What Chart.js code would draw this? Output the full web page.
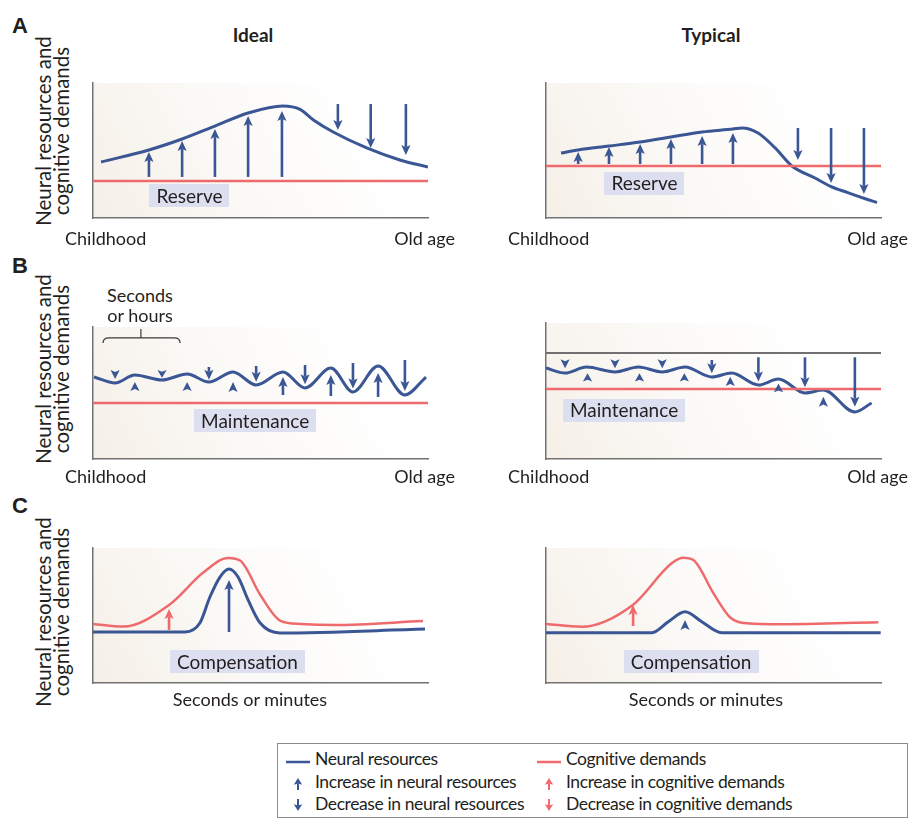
<!DOCTYPE html>
<html>
<head>
<meta charset="utf-8">
<script src="https://cdn.jsdelivr.net/npm/chart.js@4.4.1/dist/chart.umd.min.js"></script>
<style>
  html, body { margin: 0; padding: 0; background: #ffffff; }
  #page { position: relative; width: 911px; height: 818px; overflow: hidden; background: #ffffff; color: #231f20; }
  #page canvas { position: absolute; }
  .t { position: absolute; white-space: nowrap; line-height: 1; }
  #legend { position: absolute; left: 277px; top: 743px; width: 631px; height: 75px; border: 1.5px solid #8c8c8c; box-sizing: border-box; }
</style>
</head>
<body>
<div id="page"><div id="legend"></div></div>
<script>
// ================= DATA (values on a 0–100 schematic scale) =================
const COLUMN_TITLES = ['Ideal', 'Typical'];
const PANEL_LETTERS = ['A', 'B', 'C'];
const Y_TITLE_LINES = ['Neural resources and', 'cognitive demands'];
const LIFESPAN_LABELS = ['Childhood', 'Old age'];
const SHORT_TIME_LABEL = 'Seconds or minutes';
const BRACKET_LABEL = ['Seconds', 'or hours'];
const BOX_LABELS = ['Reserve', 'Maintenance', 'Compensation'];
const FULL_SPAN_X = [0, 100];

// ---- A: Reserve, ideal ----
const A_IDEAL_NEURAL_X = [2.4, 16.7, 26.6, 36.4, 46.3, 56.7, 61.8, 65.8, 71.7, 81.7, 91.6, 100];
const A_IDEAL_NEURAL_Y = [41.5, 50.4, 58.5, 68.1, 77.8, 83.0, 80.5, 72.6, 63.7, 51.9, 43.0, 37.8];
const A_IDEAL_DEMAND_Y = [27.4, 27.4];
const A_IDEAL_UP_X = [16.7, 26.6, 36.4, 46.3, 56.4];
const A_IDEAL_UP_FROM = [30.4, 30.4, 30.4, 30.4, 30.4];
const A_IDEAL_UP_TO = [48.9, 57.0, 65.9, 75.6, 79.3];
const A_IDEAL_DOWN_X = [73.1, 82.9, 93.4];
const A_IDEAL_DOWN_FROM = [84.4, 84.4, 84.4];
const A_IDEAL_DOWN_TO = [65.2, 51.9, 46.7];
const A_IDEAL_LABEL_AT = [28.8, 16.3];

// ---- A: Reserve, typical ----
const A_TYP_NEURAL_X = [4.5, 9.6, 18.8, 28.1, 37.3, 46.6, 55.8, 58.5, 63.3, 68.4, 73.4, 80.3, 85.1, 90.1, 94.9, 98.8];
const A_TYP_NEURAL_Y = [48.1, 50.4, 53.3, 56.3, 60.0, 63.7, 65.9, 66.7, 63.0, 51.9, 38.5, 29.6, 23.2, 18.8, 14.6, 11.4];
const A_TYP_DEMAND_Y = [38.5, 38.5];
const A_TYP_UP_X = [9.6, 18.8, 28.1, 37.3, 46.6, 55.8];
const A_TYP_UP_FROM = [40.0, 40.0, 40.0, 40.0, 40.0, 40.0];
const A_TYP_UP_TO = [48.9, 52.6, 54.8, 58.5, 60.7, 63.0];
const A_TYP_DOWN_X = [75.2, 85.1, 94.9];
const A_TYP_DOWN_FROM = [66.7, 66.7, 66.7];
const A_TYP_DOWN_TO = [43.0, 25.9, 17.8];
const A_TYP_LABEL_AT = [29.4, 25.9];

// ---- B: Maintenance, ideal ----
const B_IDEAL_NEURAL_X = [0.3, 6.6, 12.5, 20.6, 28.1, 34.6, 41.8, 48.7, 56.7, 63.3, 71.0, 77.6, 85.1, 93.1, 99.4];
const B_IDEAL_NEURAL_Y = [62.1, 57.6, 63.6, 59.8, 64.4, 58.3, 65.9, 56.1, 65.9, 53.8, 68.9, 50.8, 70.5, 48.5, 62.1];
const B_IDEAL_DEMAND_Y = [42.4, 42.4];
const B_IDEAL_DOWN_X = [6.6, 20.6, 34.6, 48.7, 63.3, 77.6, 93.1];
const B_IDEAL_DOWN_FROM = [67.4, 67.4, 69.7, 70.5, 71.2, 72.7, 75.0];
const B_IDEAL_DOWN_TO = [60.6, 61.5, 60.0, 58.5, 56.6, 53.5, 51.5];
const B_IDEAL_UP_X = [12.5, 28.1, 41.8, 56.7, 71.0, 85.1];
const B_IDEAL_UP_FROM = [51.5, 51.5, 50.8, 48.5, 47.7, 47.0];
const B_IDEAL_UP_TO = [58.3, 58.3, 58.3, 62.1, 63.6, 65.2];
const B_IDEAL_LABEL_AT = [48.4, 28.8];
const B_IDEAL_BRACKET = { from: 3.0, to: 26.0, mid: 14.3, y: 91.7, foot: 87.9, stem: 98.5 };

// ---- B: Maintenance, typical ----
const B_TYP_NEURAL_X = [0, 5.7, 12.1, 20.6, 27.6, 34.7, 41.5, 49.5, 55.4, 63.4, 69.4, 77.3, 82.8, 92.2, 97.2];
const B_TYP_NEURAL_Y = [66.9, 63.2, 67.6, 64.0, 67.6, 64.0, 67.6, 60.3, 63.2, 54.4, 58.8, 48.5, 50.7, 34.6, 41.2];
const B_TYP_DEMAND_Y = [51.5, 51.5];
const B_TYP_CEILING_Y = [77.9, 77.9];
const B_TYP_DOWN_X = [5.7, 20.6, 34.7, 49.5, 63.4, 77.3, 92.2];
const B_TYP_DOWN_FROM = [73.3, 73.3, 73.3, 72.8, 74.8, 74.8, 74.8];
const B_TYP_DOWN_TO = [66.7, 66.7, 66.7, 63.0, 56.9, 52.7, 38.5];
const B_TYP_UP_X = [12.4, 27.9, 41.3, 55.0, 69.4, 82.8];
const B_TYP_UP_FROM = [56.9, 56.9, 56.9, 53.7, 49.0, 38.5];
const B_TYP_UP_TO = [63.0, 63.0, 63.0, 60.5, 55.6, 45.8];
const B_TYP_LABEL_AT = [23.3, 36.0];

// ---- C: Compensation, ideal ----
const C_IDEAL_DEMAND_X = [0, 9.0, 22.7, 33.0, 40.3, 44.0, 50.0, 56.0, 62.0, 72.0, 98.5];
const C_IDEAL_DEMAND_Y = [43.7, 41.8, 57.8, 82.0, 92.6, 90.5, 65.0, 46.0, 43.7, 43.0, 45.9];
const C_IDEAL_NEURAL_X = [0, 27.5, 31.9, 34.9, 37.9, 40.6, 43.3, 46.3, 49.9, 55.8, 99.1];
const C_IDEAL_NEURAL_Y = [37.8, 37.8, 44.4, 63.7, 78.5, 84.4, 78.5, 61.5, 44.4, 37.0, 40.0];
const C_IDEAL_DEMAND_UP_X = [22.7];
const C_IDEAL_DEMAND_UP_FROM = [39.3];
const C_IDEAL_DEMAND_UP_TO = [54.8];
const C_IDEAL_NEURAL_UP_X = [40.6];
const C_IDEAL_NEURAL_UP_FROM = [37.8];
const C_IDEAL_NEURAL_UP_TO = [76.3];
const C_IDEAL_LABEL_AT = [43.1, 15.9];

// ---- C: Compensation, typical ----
const C_TYP_DEMAND_X = [0, 10.7, 25.9, 37.5, 41.0, 44.0, 50.0, 55.0, 60.0, 70.0, 99.2];
const C_TYP_DEMAND_Y = [43.7, 41.7, 57.8, 88.7, 92.8, 91.1, 66.4, 48.5, 44.2, 43.5, 45.0];
const C_TYP_NEURAL_X = [0, 31.6, 36.5, 41.5, 46.5, 52.4, 99.9];
const C_TYP_NEURAL_Y = [37.3, 37.3, 45.4, 52.8, 45.4, 37.3, 37.3];
const C_TYP_DEMAND_UP_X = [26.0];
const C_TYP_DEMAND_UP_FROM = [42.2];
const C_TYP_DEMAND_UP_TO = [57.8];
const C_TYP_NEURAL_UP_X = [41.5];
const C_TYP_NEURAL_UP_FROM = [39.3];
const C_TYP_NEURAL_UP_TO = [46.7];
const C_TYP_LABEL_AT = [43.3, 15.9];

const LEGEND_LEFT = ['Neural resources', 'Increase in neural resources', 'Decrease in neural resources'];
const LEGEND_RIGHT = ['Cognitive demands', 'Increase in cognitive demands', 'Decrease in cognitive demands'];

// ================= STYLE =================
const BLUE = '#3a5694';
const RED = '#ef6a6c';
const GREY = '#707070';
const AXIS = '#737373';
const TEXT = '#231f20';
const BOX_FILL = '#dcdff0';
const FONT = 'Lato';
const PAD = 12;

const page = document.getElementById('page');

function pts(xs, ys) { return xs.map((x, i) => ({ x: x, y: ys[i] })); }

function drawArrow(ctx, px, pFrom, pTo, color) {
  const dir = pTo > pFrom ? 1 : -1;
  const len = Math.abs(pTo - pFrom);
  const hl = Math.min(10, len);
  const hw = 4.6;
  const baseY = pTo - dir * hl;
  ctx.save();
  ctx.strokeStyle = color; ctx.fillStyle = color;
  if (len - hl > 0.5) {
    ctx.lineWidth = 2.6; ctx.lineCap = 'butt';
    ctx.beginPath(); ctx.moveTo(px, pFrom); ctx.lineTo(px, baseY + dir * 2); ctx.stroke();
  }
  ctx.beginPath();
  ctx.moveTo(px, pTo);
  ctx.lineTo(px - hw, baseY);
  ctx.lineTo(px, baseY + dir * hl * 0.22);
  ctx.lineTo(px + hw, baseY);
  ctx.closePath(); ctx.fill();
  ctx.restore();
}

const SPECS = {};

const schematicPlugin = {
  id: 'schematic',
  beforeDraw(chart) {
    const { ctx, chartArea: a } = chart;
    const g = ctx.createLinearGradient(a.left, a.bottom, a.left + a.width * 0.75, a.top);
    g.addColorStop(0, '#f5efe7');
    g.addColorStop(0.5, '#fbf9f6');
    g.addColorStop(1, '#ffffff');
    ctx.save(); ctx.fillStyle = g; ctx.fillRect(a.left, a.top, a.width, a.height); ctx.restore();
  },
  afterDatasetsDraw(chart) {
    const spec = SPECS[chart.canvas.id];
    const { ctx } = chart;
    const xs = chart.scales.x, ys = chart.scales.y;
    (spec.arrows || []).forEach(set => {
      set.x.forEach((xv, i) => drawArrow(ctx, xs.getPixelForValue(xv), ys.getPixelForValue(set.from[i]), ys.getPixelForValue(set.to[i]), set.color));
    });
    if (spec.bracket) {
      const b = spec.bracket;
      const x1 = xs.getPixelForValue(b.from), x2 = xs.getPixelForValue(b.to), xm = xs.getPixelForValue(b.mid);
      const y = ys.getPixelForValue(b.y), yf = ys.getPixelForValue(b.foot), yt = ys.getPixelForValue(b.stem);
      ctx.save(); ctx.strokeStyle = '#3a3a3a'; ctx.lineWidth = 1.2;
      ctx.beginPath();
      ctx.moveTo(x1, yf); ctx.quadraticCurveTo(x1, y, x1 + 6, y);
      ctx.lineTo(x2 - 6, y); ctx.quadraticCurveTo(x2, y, x2, yf);
      ctx.moveTo(xm, y); ctx.lineTo(xm, yt);
      ctx.stroke(); ctx.restore();
    }
    if (spec.label) {
      const l = spec.label;
      const cx = xs.getPixelForValue(l.at[0]), cy = ys.getPixelForValue(l.at[1]);
      ctx.save();
      ctx.font = '19px ' + FONT;
      const w = ctx.measureText(l.text).width + 14, h = 23;
      ctx.fillStyle = BOX_FILL;
      ctx.fillRect(Math.round(cx - w / 2), Math.round(cy - h / 2), Math.round(w), h);
      ctx.fillStyle = TEXT; ctx.textAlign = 'center'; ctx.textBaseline = 'middle';
      ctx.fillText(l.text, cx, cy + 1);
      ctx.restore();
    }
  }
};

function lineDs(label, data, color, width) {
  return { label: label, data: data, borderColor: color, borderWidth: width, pointRadius: 0,
           fill: false, cubicInterpolationMode: 'monotone', tension: 0.4 };
}

function makePanel(id, box, spec) {
  const c = document.createElement('canvas');
  c.id = id;
  c.width = box[2] + 2 * PAD; c.height = box[3] + 2 * PAD;
  c.style.left = (box[0] - PAD) + 'px'; c.style.top = (box[1] - PAD) + 'px';
  c.style.width = c.width + 'px'; c.style.height = c.height + 'px';
  page.appendChild(c);
  SPECS[id] = spec;
  const axis = {
    type: 'linear', min: 0, max: 100,
    ticks: { display: false },
    grid: { display: true, drawOnChartArea: false, drawTicks: false },
    border: { display: true, color: AXIS, width: 1.5 }
  };
  new Chart(c, {
    type: 'line',
    data: { datasets: spec.datasets },
    options: {
      responsive: false, animation: false, events: [],
      devicePixelRatio: 1,
      layout: { padding: PAD },
      plugins: { legend: { display: false }, tooltip: { enabled: false } },
      scales: { x: axis, y: JSON.parse(JSON.stringify(axis)) }
    },
    plugins: [schematicPlugin]
  });
}

// ---- A ideal ----
makePanel('aIdeal', [93, 83, 335, 135], {
  datasets: [lineDs('Cognitive demands', pts(FULL_SPAN_X, A_IDEAL_DEMAND_Y), RED, 2.5),
             lineDs('Neural resources', pts(A_IDEAL_NEURAL_X, A_IDEAL_NEURAL_Y), BLUE, 3)],
  arrows: [{ x: A_IDEAL_UP_X, from: A_IDEAL_UP_FROM, to: A_IDEAL_UP_TO, color: BLUE },
           { x: A_IDEAL_DOWN_X, from: A_IDEAL_DOWN_FROM, to: A_IDEAL_DOWN_TO, color: BLUE }],
  label: { text: BOX_LABELS[0], at: A_IDEAL_LABEL_AT }
});
// ---- A typical ----
makePanel('aTyp', [546, 83, 335, 135], {
  datasets: [lineDs('Cognitive demands', pts(FULL_SPAN_X, A_TYP_DEMAND_Y), RED, 2.5),
             lineDs('Neural resources', pts(A_TYP_NEURAL_X, A_TYP_NEURAL_Y), BLUE, 3)],
  arrows: [{ x: A_TYP_UP_X, from: A_TYP_UP_FROM, to: A_TYP_UP_TO, color: BLUE },
           { x: A_TYP_DOWN_X, from: A_TYP_DOWN_FROM, to: A_TYP_DOWN_TO, color: BLUE }],
  label: { text: BOX_LABELS[0], at: A_TYP_LABEL_AT }
});
// ---- B ideal ----
makePanel('bIdeal', [93, 327, 335, 132], {
  datasets: [lineDs('Cognitive demands', pts(FULL_SPAN_X, B_IDEAL_DEMAND_Y), RED, 2.5),
             lineDs('Neural resources', pts(B_IDEAL_NEURAL_X, B_IDEAL_NEURAL_Y), BLUE, 3)],
  arrows: [{ x: B_IDEAL_DOWN_X, from: B_IDEAL_DOWN_FROM, to: B_IDEAL_DOWN_TO, color: BLUE },
           { x: B_IDEAL_UP_X, from: B_IDEAL_UP_FROM, to: B_IDEAL_UP_TO, color: BLUE }],
  label: { text: BOX_LABELS[1], at: B_IDEAL_LABEL_AT },
  bracket: B_IDEAL_BRACKET
});
// ---- B typical ----
makePanel('bTyp', [546, 323, 335, 136], {
  datasets: [lineDs('Capacity', pts(FULL_SPAN_X, B_TYP_CEILING_Y), GREY, 2),
             lineDs('Cognitive demands', pts(FULL_SPAN_X, B_TYP_DEMAND_Y), RED, 2.5),
             lineDs('Neural resources', pts(B_TYP_NEURAL_X, B_TYP_NEURAL_Y), BLUE, 3)],
  arrows: [{ x: B_TYP_DOWN_X, from: B_TYP_DOWN_FROM, to: B_TYP_DOWN_TO, color: BLUE },
           { x: B_TYP_UP_X, from: B_TYP_UP_FROM, to: B_TYP_UP_TO, color: BLUE }],
  label: { text: BOX_LABELS[1], at: B_TYP_LABEL_AT }
});
// ---- C ideal ----
makePanel('cIdeal', [93, 548, 335, 135], {
  datasets: [lineDs('Cognitive demands', pts(C_IDEAL_DEMAND_X, C_IDEAL_DEMAND_Y), RED, 2.5),
             lineDs('Neural resources', pts(C_IDEAL_NEURAL_X, C_IDEAL_NEURAL_Y), BLUE, 3)],
  arrows: [{ x: C_IDEAL_DEMAND_UP_X, from: C_IDEAL_DEMAND_UP_FROM, to: C_IDEAL_DEMAND_UP_TO, color: RED },
           { x: C_IDEAL_NEURAL_UP_X, from: C_IDEAL_NEURAL_UP_FROM, to: C_IDEAL_NEURAL_UP_TO, color: BLUE }],
  label: { text: BOX_LABELS[2], at: C_IDEAL_LABEL_AT }
});
// ---- C typical ----
makePanel('cTyp', [546, 548, 335, 135], {
  datasets: [lineDs('Cognitive demands', pts(C_TYP_DEMAND_X, C_TYP_DEMAND_Y), RED, 2.5),
             lineDs('Neural resources', pts(C_TYP_NEURAL_X, C_TYP_NEURAL_Y), BLUE, 3)],
  arrows: [{ x: C_TYP_DEMAND_UP_X, from: C_TYP_DEMAND_UP_FROM, to: C_TYP_DEMAND_UP_TO, color: RED },
           { x: C_TYP_NEURAL_UP_X, from: C_TYP_NEURAL_UP_FROM, to: C_TYP_NEURAL_UP_TO, color: BLUE }],
  label: { text: BOX_LABELS[2], at: C_TYP_LABEL_AT }
});

// ================= TEXT =================
function placeText(str, x, baseline, o) {
  o = Object.assign({ size: 18, weight: 'normal', align: 'left', family: FONT, color: TEXT, spacing: 0 }, o || {});
  const d = document.createElement('div');
  d.className = 't';
  d.style.fontFamily = o.family; d.style.fontSize = o.size + 'px'; d.style.fontWeight = o.weight;
  d.style.letterSpacing = o.spacing + 'px';
  d.style.color = o.color; d.style.left = '0px'; d.style.top = '0px';
  d.appendChild(document.createTextNode(str));
  const m = document.createElement('span');
  m.style.cssText = 'display:inline-block;width:0;height:0;vertical-align:baseline;';
  d.appendChild(m);
  page.appendChild(d);
  const dr = d.getBoundingClientRect(), mr = m.getBoundingClientRect();
  const off = mr.top - dr.top, w = dr.width;
  const left = o.align === 'center' ? x - w / 2 : (o.align === 'right' ? x - w : x);
  d.style.left = left + 'px'; d.style.top = (baseline - off) + 'px';
  return d;
}

function placeRotated(lines, cx, cy, size, lh) {
  const d = document.createElement('div');
  d.className = 't';
  d.style.fontFamily = FONT; d.style.fontSize = size + 'px'; d.style.lineHeight = lh + 'px';
  d.style.textAlign = 'center'; d.style.color = TEXT;
  lines.forEach((ln, i) => { if (i) d.appendChild(document.createElement('br')); d.appendChild(document.createTextNode(ln)); });
  page.appendChild(d);
  const w = d.offsetWidth, h = d.offsetHeight;
  d.style.left = (cx - w / 2) + 'px'; d.style.top = (cy - h / 2) + 'px';
  d.style.transform = 'rotate(-90deg)';
}

// panel letters
[[33], [273], [513]].forEach((b, i) => placeText(PANEL_LETTERS[i], 12, b[0], { size: 22, weight: 'bold', family: '"Liberation Sans"' }));
// column titles
placeText(COLUMN_TITLES[0], 253, 42, { size: 19, weight: 'bold', align: 'center' });
placeText(COLUMN_TITLES[1], 711, 42, { size: 19, weight: 'bold', align: 'center' });
// y titles
[131, 369, 612].forEach(cy => placeRotated(Y_TITLE_LINES, 52, cy, 20.5, 18));
// x labels
[[245], [483]].forEach(b => {
  placeText(LIFESPAN_LABELS[0], 65, b[0], { size: 18 });
  placeText(LIFESPAN_LABELS[1], 455, b[0], { size: 18, align: 'right' });
  placeText(LIFESPAN_LABELS[0], 508, b[0], { size: 18 });
  placeText(LIFESPAN_LABELS[1], 908, b[0], { size: 18, align: 'right' });
});
placeText(SHORT_TIME_LABEL, 250, 706, { size: 18, align: 'center' });
placeText(SHORT_TIME_LABEL, 706, 706, { size: 18, align: 'center' });
placeText(BRACKET_LABEL[0], 140, 302, { size: 18, align: 'center' });
placeText(BRACKET_LABEL[1], 140, 322, { size: 18, align: 'center' });

// ================= LEGEND =================
function svgIcon(kind, color, cx, cy) {
  const ns = 'http://www.w3.org/2000/svg';
  const s = document.createElementNS(ns, 'svg');
  const W = 26, H = 14;
  s.setAttribute('width', W); s.setAttribute('height', H);
  s.style.position = 'absolute'; s.style.left = (cx - W / 2) + 'px'; s.style.top = (cy - H / 2) + 'px';
  if (kind === 'line') {
    const l = document.createElementNS(ns, 'line');
    l.setAttribute('x1', 1); l.setAttribute('x2', 25); l.setAttribute('y1', 7); l.setAttribute('y2', 7);
    l.setAttribute('stroke', color); l.setAttribute('stroke-width', 2.5);
    s.appendChild(l);
  } else {
    const up = kind === 'up';
    const p = document.createElementNS(ns, 'path');
    const d = up ? 'M13,1 L8.8,7.8 L13,6.6 L17.2,7.8 Z M12,6.6 L14,6.6 L14,13 L12,13 Z'
                 : 'M13,13 L8.8,6.2 L13,7.4 L17.2,6.2 Z M12,1 L14,1 L14,7.4 L12,7.4 Z';
    p.setAttribute('d', d); p.setAttribute('fill', color);
    s.appendChild(p);
  }
  page.appendChild(s);
}
const LEG_ROWS = [765, 788, 810];
const LEG_ICON_Y = [762, 784, 805];
const LEG_KINDS = ['line', 'up', 'down'];
LEGEND_LEFT.forEach((txt, i) => {
  svgIcon(LEG_KINDS[i], BLUE, 298, LEG_ICON_Y[i]);
  placeText(txt, 315, LEG_ROWS[i], { size: 17.5, spacing: -0.4 });
});
LEGEND_RIGHT.forEach((txt, i) => {
  svgIcon(LEG_KINDS[i], RED, 549, LEG_ICON_Y[i]);
  placeText(txt, 566, LEG_ROWS[i], { size: 17.5, spacing: -0.4 });
});
</script>
</body>
</html>
